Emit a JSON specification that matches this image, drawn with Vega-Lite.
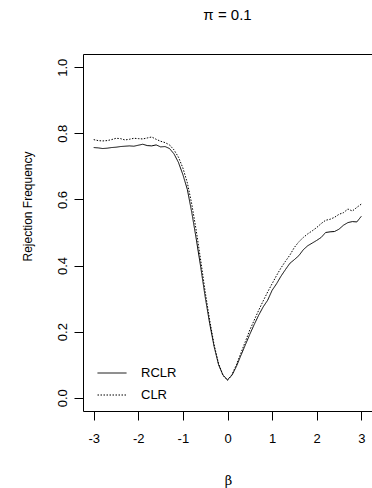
{
  "$schema": "https://vega.github.io/schema/vega-lite/v6.json",
  "width": 289,
  "height": 357,
  "autosize": {"type": "none"},
  "padding": {"left": 83, "top": 54, "right": 0, "bottom": 77},
  "background": "white",
  "title": {"text": "π = 0.1", "font": "Liberation Sans", "fontSize": 15, "fontWeight": "normal", "color": "black", "offset": 31, "anchor": "middle"},
  "config": {
    "view": {"stroke": "black", "strokeWidth": 1},
    "axis": {"labelFont": "Liberation Sans", "labelFontSize": 13, "labelColor": "black", "tickColor": "black", "tickSize": 9, "domain": false, "grid": false, "titleColor": "black", "titleFontWeight": "normal"}
  },
  "data": {"values": [
    {"beta": -3.0, "series": "RCLR", "rf": 0.757}, {"beta": -2.9, "series": "RCLR", "rf": 0.756}, {"beta": -2.8, "series": "RCLR", "rf": 0.754}, {"beta": -2.7, "series": "RCLR", "rf": 0.755}, {"beta": -2.6, "series": "RCLR", "rf": 0.757}, {"beta": -2.5, "series": "RCLR", "rf": 0.758}, {"beta": -2.4, "series": "RCLR", "rf": 0.760}, {"beta": -2.3, "series": "RCLR", "rf": 0.761}, {"beta": -2.2, "series": "RCLR", "rf": 0.762}, {"beta": -2.1, "series": "RCLR", "rf": 0.761},
    {"beta": -2.0, "series": "RCLR", "rf": 0.764}, {"beta": -1.9, "series": "RCLR", "rf": 0.767}, {"beta": -1.8, "series": "RCLR", "rf": 0.763}, {"beta": -1.7, "series": "RCLR", "rf": 0.762}, {"beta": -1.6, "series": "RCLR", "rf": 0.765}, {"beta": -1.5, "series": "RCLR", "rf": 0.759}, {"beta": -1.4, "series": "RCLR", "rf": 0.760}, {"beta": -1.3, "series": "RCLR", "rf": 0.754}, {"beta": -1.2, "series": "RCLR", "rf": 0.738}, {"beta": -1.1, "series": "RCLR", "rf": 0.712},
    {"beta": -1.0, "series": "RCLR", "rf": 0.675}, {"beta": -0.9, "series": "RCLR", "rf": 0.630}, {"beta": -0.8, "series": "RCLR", "rf": 0.560}, {"beta": -0.7, "series": "RCLR", "rf": 0.480}, {"beta": -0.6, "series": "RCLR", "rf": 0.395}, {"beta": -0.5, "series": "RCLR", "rf": 0.305}, {"beta": -0.4, "series": "RCLR", "rf": 0.225}, {"beta": -0.3, "series": "RCLR", "rf": 0.155}, {"beta": -0.2, "series": "RCLR", "rf": 0.100}, {"beta": -0.1, "series": "RCLR", "rf": 0.068},
    {"beta": 0.0, "series": "RCLR", "rf": 0.055}, {"beta": 0.1, "series": "RCLR", "rf": 0.068}, {"beta": 0.2, "series": "RCLR", "rf": 0.095}, {"beta": 0.3, "series": "RCLR", "rf": 0.128}, {"beta": 0.4, "series": "RCLR", "rf": 0.160}, {"beta": 0.5, "series": "RCLR", "rf": 0.192}, {"beta": 0.6, "series": "RCLR", "rf": 0.222}, {"beta": 0.7, "series": "RCLR", "rf": 0.250}, {"beta": 0.8, "series": "RCLR", "rf": 0.275}, {"beta": 0.9, "series": "RCLR", "rf": 0.295},
    {"beta": 1.0, "series": "RCLR", "rf": 0.325}, {"beta": 1.1, "series": "RCLR", "rf": 0.345}, {"beta": 1.2, "series": "RCLR", "rf": 0.368}, {"beta": 1.3, "series": "RCLR", "rf": 0.388}, {"beta": 1.4, "series": "RCLR", "rf": 0.407}, {"beta": 1.5, "series": "RCLR", "rf": 0.418}, {"beta": 1.6, "series": "RCLR", "rf": 0.430}, {"beta": 1.7, "series": "RCLR", "rf": 0.448}, {"beta": 1.8, "series": "RCLR", "rf": 0.460}, {"beta": 1.9, "series": "RCLR", "rf": 0.468},
    {"beta": 2.0, "series": "RCLR", "rf": 0.476}, {"beta": 2.1, "series": "RCLR", "rf": 0.485}, {"beta": 2.2, "series": "RCLR", "rf": 0.500}, {"beta": 2.3, "series": "RCLR", "rf": 0.502}, {"beta": 2.4, "series": "RCLR", "rf": 0.503}, {"beta": 2.5, "series": "RCLR", "rf": 0.510}, {"beta": 2.6, "series": "RCLR", "rf": 0.522}, {"beta": 2.7, "series": "RCLR", "rf": 0.530}, {"beta": 2.8, "series": "RCLR", "rf": 0.533}, {"beta": 2.9, "series": "RCLR", "rf": 0.532},
    {"beta": 3.0, "series": "RCLR", "rf": 0.549},
    {"beta": -3.0, "series": "CLR", "rf": 0.781}, {"beta": -2.9, "series": "CLR", "rf": 0.778}, {"beta": -2.8, "series": "CLR", "rf": 0.777}, {"beta": -2.7, "series": "CLR", "rf": 0.778}, {"beta": -2.6, "series": "CLR", "rf": 0.781}, {"beta": -2.5, "series": "CLR", "rf": 0.785}, {"beta": -2.4, "series": "CLR", "rf": 0.784}, {"beta": -2.3, "series": "CLR", "rf": 0.780}, {"beta": -2.2, "series": "CLR", "rf": 0.782}, {"beta": -2.1, "series": "CLR", "rf": 0.785},
    {"beta": -2.0, "series": "CLR", "rf": 0.784}, {"beta": -1.9, "series": "CLR", "rf": 0.783}, {"beta": -1.8, "series": "CLR", "rf": 0.786}, {"beta": -1.7, "series": "CLR", "rf": 0.789}, {"beta": -1.6, "series": "CLR", "rf": 0.782}, {"beta": -1.5, "series": "CLR", "rf": 0.776}, {"beta": -1.4, "series": "CLR", "rf": 0.772}, {"beta": -1.3, "series": "CLR", "rf": 0.765}, {"beta": -1.2, "series": "CLR", "rf": 0.750}, {"beta": -1.1, "series": "CLR", "rf": 0.728},
    {"beta": -1.0, "series": "CLR", "rf": 0.695}, {"beta": -0.9, "series": "CLR", "rf": 0.650}, {"beta": -0.8, "series": "CLR", "rf": 0.585}, {"beta": -0.7, "series": "CLR", "rf": 0.505}, {"beta": -0.6, "series": "CLR", "rf": 0.415}, {"beta": -0.5, "series": "CLR", "rf": 0.320}, {"beta": -0.4, "series": "CLR", "rf": 0.235}, {"beta": -0.3, "series": "CLR", "rf": 0.160}, {"beta": -0.2, "series": "CLR", "rf": 0.103}, {"beta": -0.1, "series": "CLR", "rf": 0.068},
    {"beta": 0.0, "series": "CLR", "rf": 0.052}, {"beta": 0.1, "series": "CLR", "rf": 0.070}, {"beta": 0.2, "series": "CLR", "rf": 0.100}, {"beta": 0.3, "series": "CLR", "rf": 0.135}, {"beta": 0.4, "series": "CLR", "rf": 0.170}, {"beta": 0.5, "series": "CLR", "rf": 0.205}, {"beta": 0.6, "series": "CLR", "rf": 0.235}, {"beta": 0.7, "series": "CLR", "rf": 0.265}, {"beta": 0.8, "series": "CLR", "rf": 0.293}, {"beta": 0.9, "series": "CLR", "rf": 0.320},
    {"beta": 1.0, "series": "CLR", "rf": 0.345}, {"beta": 1.1, "series": "CLR", "rf": 0.370}, {"beta": 1.2, "series": "CLR", "rf": 0.393}, {"beta": 1.3, "series": "CLR", "rf": 0.413}, {"beta": 1.4, "series": "CLR", "rf": 0.432}, {"beta": 1.5, "series": "CLR", "rf": 0.455}, {"beta": 1.6, "series": "CLR", "rf": 0.472}, {"beta": 1.7, "series": "CLR", "rf": 0.485}, {"beta": 1.8, "series": "CLR", "rf": 0.496}, {"beta": 1.9, "series": "CLR", "rf": 0.505},
    {"beta": 2.0, "series": "CLR", "rf": 0.515}, {"beta": 2.1, "series": "CLR", "rf": 0.527}, {"beta": 2.2, "series": "CLR", "rf": 0.537}, {"beta": 2.3, "series": "CLR", "rf": 0.540}, {"beta": 2.4, "series": "CLR", "rf": 0.546}, {"beta": 2.5, "series": "CLR", "rf": 0.555}, {"beta": 2.6, "series": "CLR", "rf": 0.560}, {"beta": 2.7, "series": "CLR", "rf": 0.571}, {"beta": 2.8, "series": "CLR", "rf": 0.565}, {"beta": 2.9, "series": "CLR", "rf": 0.576},
    {"beta": 3.0, "series": "CLR", "rf": 0.586}
  ]},
  "mark": {"type": "line", "strokeWidth": 1, "color": "black"},
  "encoding": {
    "x": {"field": "beta", "type": "quantitative", "scale": {"domain": [-3.24, 3.24], "nice": false, "zero": false},
      "axis": {"values": [-3, -2, -1, 0, 1, 2, 3], "labelExpr": "'' + datum.value", "labelPadding": 12, "title": "β", "titleFont": "DejaVu Serif", "titleFontSize": 13, "titleX": 145, "titleY": 69, "titleBaseline": "middle", "titleAlign": "center"}},
    "y": {"field": "rf", "type": "quantitative", "scale": {"domain": [-0.04, 1.04], "nice": false, "zero": false},
      "axis": {"values": [0, 0.2, 0.4, 0.6, 0.8, 1.0], "format": ".1f", "labelAngle": -90, "labelAlign": "center", "labelBaseline": "bottom", "labelPadding": 5, "title": "Rejection Frequency", "titleFont": "Liberation Sans", "titleFontSize": 12, "titleX": -56, "titleY": 152, "titleAngle": -90, "titleAlign": "center", "titleBaseline": "middle"}},
    "strokeDash": {"field": "series", "type": "nominal", "scale": {"domain": ["RCLR", "CLR"], "range": [[1, 0], [1.5, 1.5]]},
      "legend": {"title": null, "orient": "none", "legendX": 14, "legendY": 304, "symbolType": "stroke", "symbolSize": 841, "symbolStrokeColor": "black", "symbolStrokeWidth": 1, "labelFont": "Liberation Sans", "labelFontSize": 13, "labelColor": "black", "labelOffset": 14, "padding": 0, "rowPadding": -10}}
  }
}
